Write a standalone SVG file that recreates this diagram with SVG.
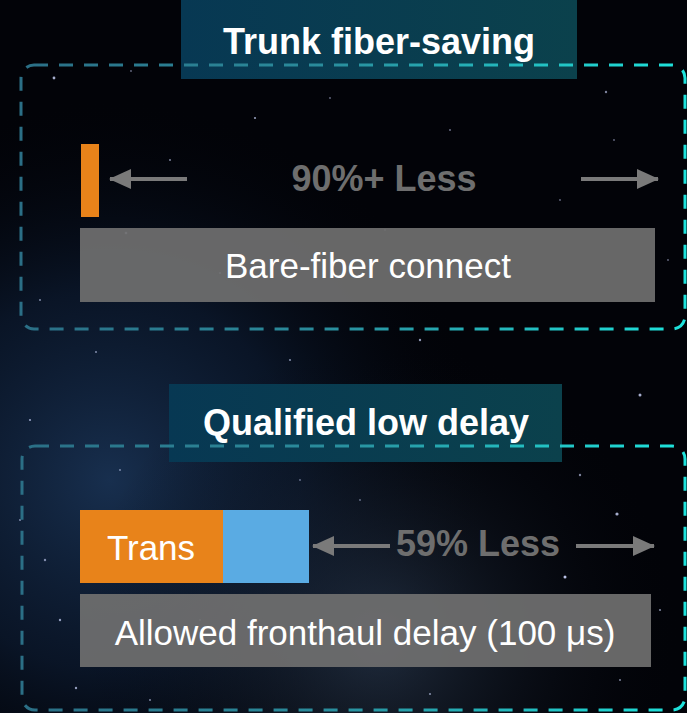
<svg xmlns="http://www.w3.org/2000/svg" width="687" height="713" viewBox="0 0 687 713">
<defs>
<radialGradient id="neb1" cx="110" cy="480" r="380" gradientUnits="userSpaceOnUse">
<stop offset="0" stop-color="#1d3a60" stop-opacity="0.8"/>
<stop offset="0.5" stop-color="#10233f" stop-opacity="0.55"/>
<stop offset="1" stop-color="#02040a" stop-opacity="0"/>
</radialGradient>
<radialGradient id="neb2" cx="380" cy="640" r="300" gradientUnits="userSpaceOnUse">
<stop offset="0" stop-color="#33465f" stop-opacity="0.6"/>
<stop offset="1" stop-color="#02040a" stop-opacity="0"/>
</radialGradient>
<linearGradient id="dash" x1="0" y1="0" x2="1" y2="0">
<stop offset="0" stop-color="#2b6f86"/>
<stop offset="0.45" stop-color="#2a8c9c"/>
<stop offset="1" stop-color="#1ee3dc"/>
</linearGradient>
<linearGradient id="ttl" x1="0" y1="0" x2="1" y2="0">
<stop offset="0" stop-color="#073853"/>
<stop offset="1" stop-color="#0b414c"/>
</linearGradient>
<marker id="ah" viewBox="0 0 22 20" refX="21" refY="10" markerWidth="22" markerHeight="20" markerUnits="userSpaceOnUse" orient="auto">
<path d="M0,0 L22,10 L0,20 Z" fill="#7a7a7a"/>
</marker>
<style>
.ttlbox{fill:url(#ttl);}
.ttltxt{font-family:"Liberation Sans",Arial,sans-serif;font-weight:bold;font-size:36px;fill:#ffffff;text-anchor:middle;}
.panel{fill:none;stroke:url(#dash);stroke-width:3;stroke-dasharray:14 11;}
.bar{fill:#6f6f6f;fill-opacity:0.93;}
.bartxt{font-family:"Liberation Sans",Arial,sans-serif;font-size:35px;fill:#ffffff;text-anchor:middle;}
.less{font-family:"Liberation Sans",Arial,sans-serif;font-weight:bold;font-size:36px;fill:#6e6e6e;text-anchor:middle;}
.arr{stroke:#7a7a7a;stroke-width:4;fill:none;marker-end:url(#ah);}
.star{fill:#cfd8ff;}
</style>
</defs>
<g id="background">
<rect width="687" height="713" fill="#020308"/>
<rect width="687" height="713" fill="url(#neb1)"/>
<rect width="687" height="713" fill="url(#neb2)"/>
<g class="star">
<circle cx="54" cy="78" r="1.4" opacity="0.8"/>
<circle cx="131" cy="71" r="0.9" opacity="0.5"/>
<circle cx="255" cy="118" r="1.1" opacity="0.7"/>
<circle cx="606" cy="92" r="1.2" opacity="0.6"/>
<circle cx="126" cy="233" r="1.3" opacity="0.8"/>
<circle cx="220" cy="273" r="1.1" opacity="0.6"/>
<circle cx="614" cy="140" r="0.9" opacity="0.5"/>
<circle cx="40" cy="300" r="1" opacity="0.6"/>
<circle cx="330" cy="98" r="0.9" opacity="0.5"/>
<circle cx="450" cy="130" r="1" opacity="0.5"/>
<circle cx="560" cy="200" r="0.9" opacity="0.5"/>
<circle cx="290" cy="360" r="1.1" opacity="0.6"/>
<circle cx="96" cy="352" r="1" opacity="0.6"/>
<circle cx="420" cy="340" r="1.2" opacity="0.7"/>
<circle cx="640" cy="395" r="1.5" opacity="0.8"/>
<circle cx="30" cy="420" r="1.1" opacity="0.7"/>
<circle cx="120" cy="470" r="0.9" opacity="0.6"/>
<circle cx="580" cy="475" r="1.2" opacity="0.6"/>
<circle cx="617" cy="514" r="1.6" opacity="0.8"/>
<circle cx="565" cy="577" r="1.5" opacity="0.9"/>
<circle cx="60" cy="620" r="1.2" opacity="0.7"/>
<circle cx="76" cy="688" r="1.2" opacity="0.7"/>
<circle cx="150" cy="700" r="1" opacity="0.6"/>
<circle cx="430" cy="694" r="1.1" opacity="0.6"/>
<circle cx="620" cy="680" r="1" opacity="0.6"/>
<circle cx="360" cy="500" r="0.9" opacity="0.5"/>
<circle cx="250" cy="400" r="0.8" opacity="0.5"/>
<circle cx="20" cy="520" r="1" opacity="0.6"/>
<circle cx="668" cy="260" r="0.9" opacity="0.5"/>
<circle cx="510" cy="385" r="0.8" opacity="0.5"/>
<circle cx="170" cy="160" r="1" opacity="0.6"/>
<circle cx="385" cy="230" r="0.9" opacity="0.5"/>
<circle cx="480" cy="260" r="0.8" opacity="0.5"/>
<circle cx="200" cy="620" r="1" opacity="0.5"/>
<circle cx="520" cy="640" r="0.9" opacity="0.5"/>
<circle cx="45" cy="560" r="1.2" opacity="0.6"/>
<circle cx="300" cy="480" r="0.9" opacity="0.5"/>
<circle cx="660" cy="610" r="1.1" opacity="0.6"/>
</g>
</g>
<g id="trunk-title">
<rect class="ttlbox" x="181" y="0" width="396" height="79"/>
</g>
<g id="trunk-panel">
<rect class="panel" x="21" y="65" width="664" height="264" rx="13"/>
</g>
<g id="trunk-title-text">
<text class="ttltxt" x="379" y="54">Trunk fiber-saving</text>
</g>
<g id="orange-bar">
<rect x="81" y="144" width="18" height="73" fill="#e8831a"/>
</g>
<g id="label-90">
<text class="less" x="384" y="191">90%+ Less</text>
</g>
<g id="bare-fiber">
<rect class="bar" x="80" y="228" width="575" height="74"/>
<text class="bartxt" x="368" y="278">Bare-fiber connect</text>
</g>
<g id="delay-title">
<rect class="ttlbox" x="169" y="384" width="393" height="78"/>
</g>
<g id="delay-panel">
<rect class="panel" x="22" y="446" width="663" height="264" rx="13"/>
</g>
<g id="delay-title-text">
<text class="ttltxt" x="366" y="435">Qualified low delay</text>
</g>
<g id="trans">
<rect x="80" y="510" width="143" height="73" fill="#e8831a"/>
<text class="bartxt" x="151" y="560">Trans</text>
</g>
<g id="blue-seg">
<rect x="223" y="510" width="86" height="73" fill="#5aabe3"/>
</g>
<g id="label-59">
<text class="less" x="478" y="556">59% Less</text>
</g>
<g id="allowed">
<rect class="bar" x="80" y="594" width="571" height="73"/>
<text class="bartxt" x="365" y="645">Allowed fronthaul delay (100 μs)</text>
</g>
<g id="connectors">
<line class="arr" x1="187" y1="179" x2="110" y2="179"/>
<line class="arr" x1="581" y1="179" x2="658" y2="179"/>
<line class="arr" x1="390" y1="546" x2="313" y2="546"/>
<line class="arr" x1="576" y1="546" x2="654" y2="546"/>
</g>
</svg>
